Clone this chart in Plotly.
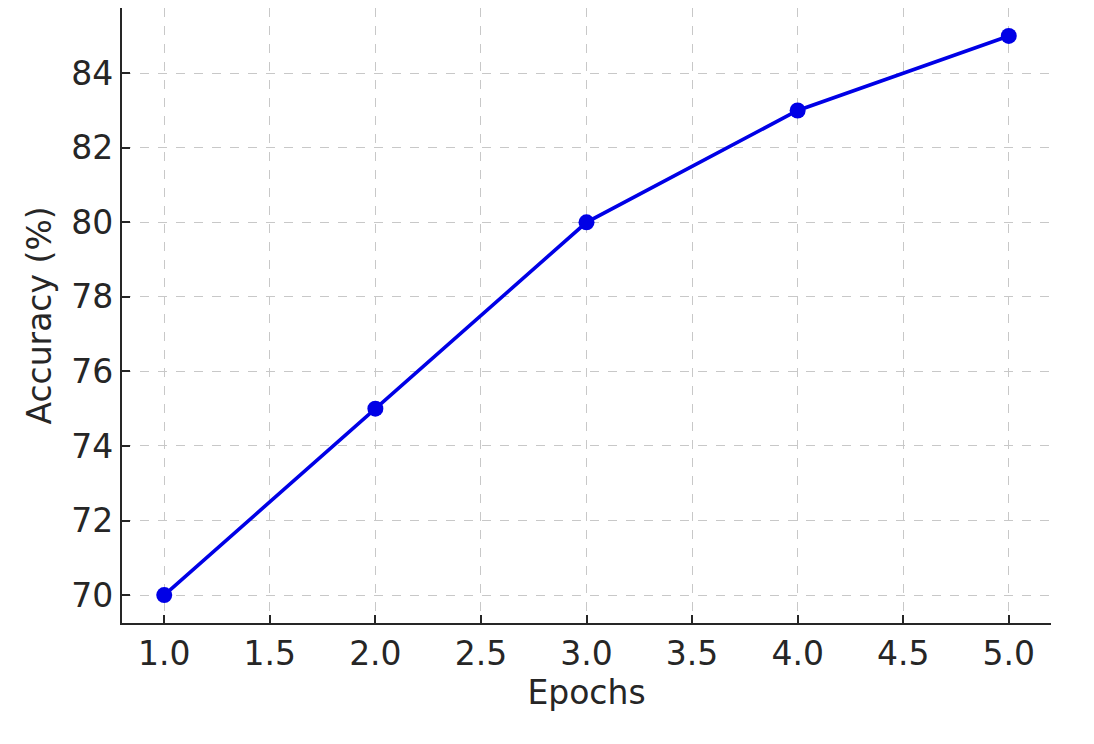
import plotly.graph_objects as go

epochs = [1, 2, 3, 4, 5]
accuracy = [70, 75, 80, 83, 85]
x_ticks = [1.0, 1.5, 2.0, 2.5, 3.0, 3.5, 4.0, 4.5, 5.0]
y_ticks = [70, 72, 74, 76, 78, 80, 82, 84]

fig = go.Figure()
fig.add_trace(go.Scatter(
    x=epochs, y=accuracy, mode="lines+markers",
    line=dict(color="#0000e6", width=3.6),
    marker=dict(color="#0000e6", size=16),
    showlegend=False,
))

font = dict(family="DejaVu Sans", size=33, color="#262626")
axis_common = dict(
    showline=True, linecolor="#262626", linewidth=2.4,
    ticks="inside", ticklen=8, tickwidth=2, tickcolor="#262626",
    showgrid=True, gridcolor="#c8c8c8", griddash="dash", gridwidth=1.3,
    zeroline=False, mirror=False, tickfont=font, automargin=False,
)
fig.update_xaxes(
    range=[0.8, 5.2], tickvals=x_ticks,
    ticktext=[f"{v:.1f}" for v in x_ticks],
    title=dict(text="Epochs", font=font, standoff=7),
    **axis_common,
)
fig.update_yaxes(
    range=[69.25, 85.75], tickvals=y_ticks,
    title=dict(text="Accuracy (%)", font=font, standoff=10),
    **axis_common,
)
fig.update_layout(
    width=1094, height=744,
    margin=dict(l=114, r=51, t=0, b=129, autoexpand=False),
    plot_bgcolor="white", paper_bgcolor="white",
)
fig.write_html("out.html")
